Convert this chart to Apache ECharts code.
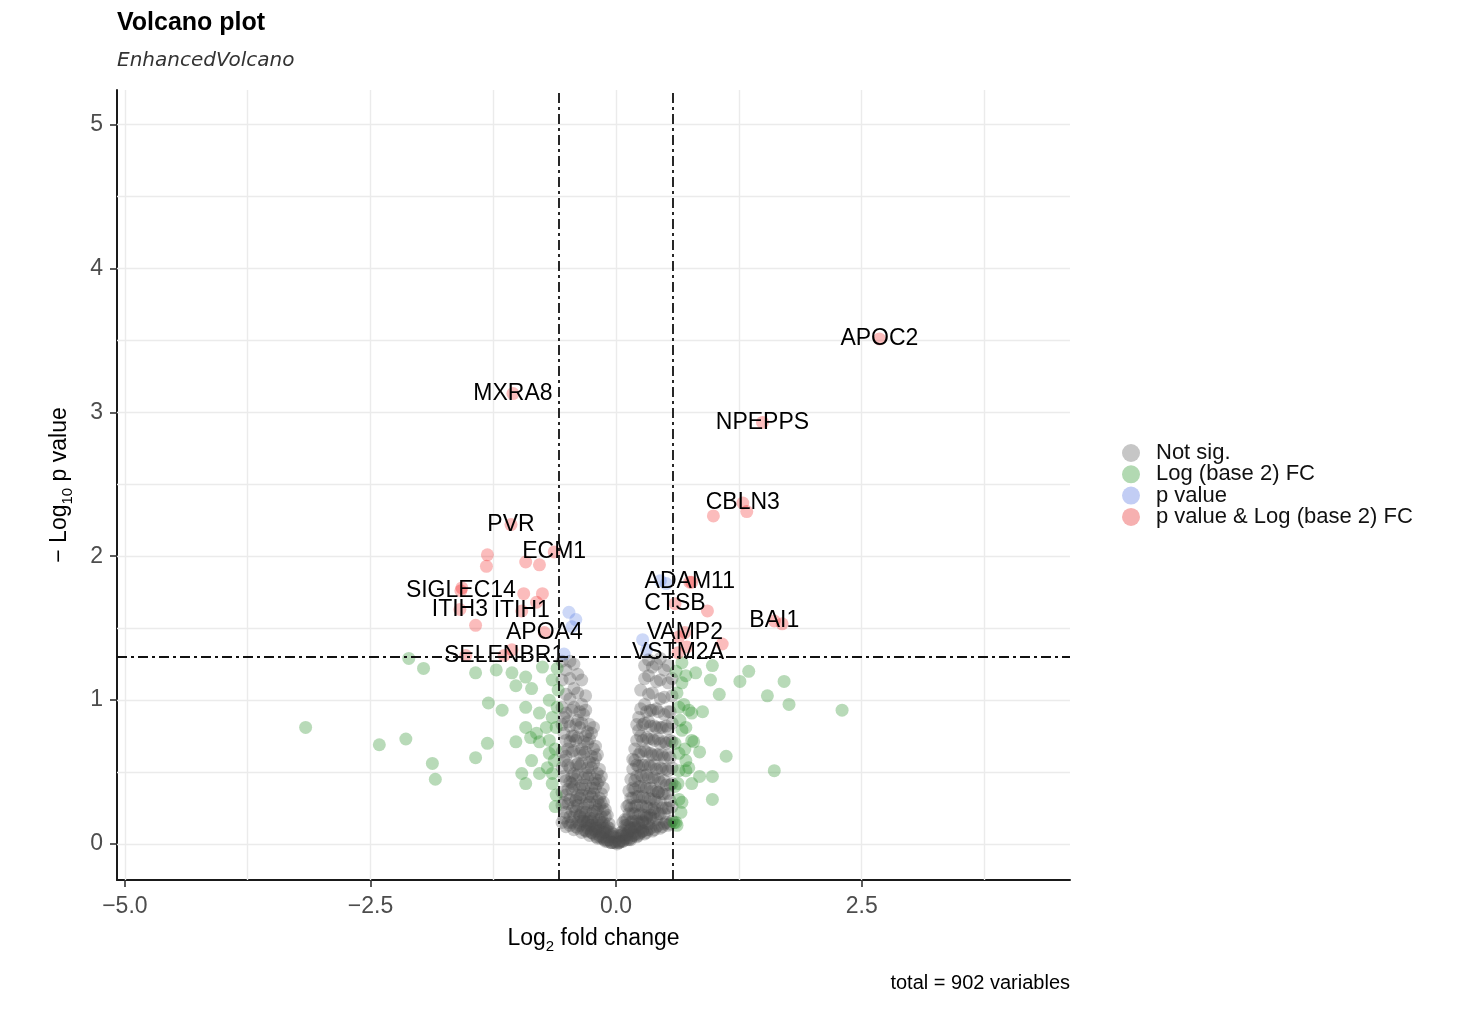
<!DOCTYPE html>
<html>
<head>
<meta charset="utf-8">
<title>Volcano plot</title>
<script src="https://cdn.jsdelivr.net/npm/echarts@6/dist/echarts.min.js"></script>
<style>
  html, body { margin: 0; padding: 0; background: #fff; }
  #main { width: 1470px; height: 1015px; }
</style>
</head>
<body>
<div id="main"></div>
<script>
// axes, grid and cut-offs
var xTicks = [-5, -2.5, 0, 2.5];
var yTicks = [0, 1, 2, 3, 4, 5];
var xGrid = [-5, -3.75, -2.5, -1.25, 0, 1.25, 2.5, 3.75];
var yGrid = [0, 0.5, 1, 1.5, 2, 2.5, 3, 3.5, 4, 4.5, 5];
var fcCutoff = 0.585;
var pCutoff = 1.301; // -log10(0.05)

// not significant: [log2 FC, [-log10 p, ...]]
var notSigColumns = [
    [-0.55, [0.15, 0.27, 0.36, 0.53, 0.64, 0.83, 0.95, 1.14, 1.27]],
    [-0.51, [0.12, 0.22, 0.34, 0.44, 0.61, 0.72, 0.91, 1.04, 1.21]],
    [-0.47, [0.13, 0.19, 0.31, 0.43, 0.53, 0.71, 0.82, 1.01, 1.15, 1.27]],
    [-0.43, [0.10, 0.19, 0.26, 0.40, 0.49, 0.65, 0.75, 0.95, 1.08, 1.25]],
    [-0.39, [0.11, 0.15, 0.27, 0.34, 0.48, 0.56, 0.74, 0.86, 1.05, 1.18]],
    [-0.35, [0.08, 0.16, 0.22, 0.34, 0.41, 0.56, 0.66, 0.84, 0.97, 1.14]],
    [-0.31, [0.09, 0.13, 0.22, 0.28, 0.41, 0.49, 0.64, 0.75, 0.93, 1.03]],
    [-0.27, [0.06, 0.13, 0.18, 0.29, 0.35, 0.48, 0.57, 0.73, 0.83]],
    [-0.23, [0.07, 0.10, 0.18, 0.23, 0.35, 0.42, 0.56, 0.66, 0.81]],
    [-0.19, [0.04, 0.11, 0.15, 0.24, 0.30, 0.42, 0.49, 0.62]],
    [-0.15, [0.05, 0.07, 0.15, 0.19, 0.28, 0.35, 0.47]],
    [-0.11, [0.02, 0.08, 0.11, 0.19, 0.24]],
    [-0.07, [0.03, 0.05, 0.11, 0.14]],
    [-0.03, [0.01, 0.05, 0.07]],
    [0.01, [0.00, 0.04]],
    [0.05, [0.02, 0.06, 0.08]],
    [0.09, [0.04, 0.06, 0.13, 0.17]],
    [0.13, [0.03, 0.09, 0.12, 0.21, 0.27, 0.37]],
    [0.17, [0.06, 0.08, 0.16, 0.21, 0.32, 0.39, 0.52, 0.59]],
    [0.21, [0.05, 0.12, 0.16, 0.27, 0.33, 0.47, 0.55, 0.72, 0.83]],
    [0.25, [0.08, 0.11, 0.21, 0.27, 0.40, 0.48, 0.64, 0.75, 0.94, 1.07]],
    [0.29, [0.07, 0.15, 0.20, 0.32, 0.40, 0.55, 0.65, 0.84, 0.97, 1.15, 1.24]],
    [0.33, [0.10, 0.14, 0.25, 0.32, 0.46, 0.55, 0.73, 0.85, 1.04, 1.17, 1.28]],
    [0.37, [0.09, 0.18, 0.24, 0.37, 0.46, 0.62, 0.73, 0.93, 1.05, 1.23]],
    [0.41, [0.12, 0.17, 0.29, 0.37, 0.52, 0.62, 0.81, 0.94, 1.13, 1.25]],
    [0.45, [0.11, 0.21, 0.29, 0.43, 0.53, 0.70, 0.81, 1.01, 1.14, 1.29]],
    [0.49, [0.14, 0.21, 0.35, 0.44, 0.60, 0.71, 0.90, 1.02, 1.21]],
    [0.53, [0.13, 0.25, 0.35, 0.51, 0.62, 0.80, 0.92, 1.12, 1.24]],
    [0.57, [0.16, 0.26, 0.42, 0.53, 0.71, 0.84, 1.03, 1.15]]
];
// second, offset layer that makes the lower part of the V dark
var notSigColumnsLow = [
    [-0.53, [0.18, 0.29, 0.47, 0.58, 0.77, 0.88]],
    [-0.49, [0.15, 0.28, 0.38, 0.55, 0.66, 0.85]],
    [-0.45, [0.15, 0.23, 0.38, 0.47, 0.64, 0.75, 0.93]],
    [-0.41, [0.12, 0.23, 0.31, 0.45, 0.55, 0.72, 0.83]],
    [-0.37, [0.13, 0.19, 0.32, 0.39, 0.54, 0.63, 0.81, 0.92]],
    [-0.33, [0.10, 0.19, 0.25, 0.38, 0.46, 0.62, 0.71, 0.90]],
    [-0.29, [0.11, 0.16, 0.27, 0.33, 0.46, 0.53, 0.70, 0.78]],
    [-0.25, [0.08, 0.16, 0.21, 0.33, 0.39, 0.53, 0.61, 0.77]],
    [-0.21, [0.09, 0.13, 0.22, 0.27, 0.39, 0.45, 0.60, 0.68]],
    [-0.17, [0.06, 0.13, 0.17, 0.27, 0.32, 0.44, 0.52]],
    [-0.13, [0.04, 0.11, 0.15, 0.23, 0.29, 0.39]],
    [-0.09, [0.03, 0.09, 0.12, 0.20]],
    [-0.05, [0.01, 0.06, 0.08]],
    [-0.01, [0.01, 0.02]],
    [0.03, [0.01, 0.02, 0.06]],
    [0.07, [0.02, 0.07, 0.09, 0.15]],
    [0.11, [0.04, 0.06, 0.13, 0.17, 0.26]],
    [0.15, [0.03, 0.11, 0.15, 0.25, 0.32, 0.45]],
    [0.19, [0.07, 0.11, 0.21, 0.26, 0.38, 0.44, 0.58, 0.66]],
    [0.23, [0.06, 0.15, 0.20, 0.33, 0.40, 0.54, 0.62, 0.79, 0.88]],
    [0.27, [0.09, 0.15, 0.26, 0.33, 0.47, 0.55, 0.72, 0.83]],
    [0.31, [0.08, 0.19, 0.26, 0.39, 0.48, 0.64, 0.74, 0.92]],
    [0.35, [0.11, 0.18, 0.31, 0.39, 0.54, 0.63, 0.82, 0.93]],
    [0.39, [0.10, 0.22, 0.31, 0.46, 0.55, 0.72, 0.82]],
    [0.43, [0.13, 0.21, 0.36, 0.45, 0.62, 0.73, 0.92]],
    [0.47, [0.12, 0.25, 0.35, 0.52, 0.62, 0.81]],
    [0.51, [0.15, 0.25, 0.41, 0.52, 0.70, 0.82]],
    [0.55, [0.14, 0.30, 0.41, 0.60, 0.72, 0.92]]
];
// extra points in the dark bottom of the V
var notSigExtra = [
    [-0.30, 0.09], [-0.25, 0.08], [-0.20, 0.05], [-0.16, 0.04], [-0.12, 0.03], [-0.09, 0.02],
    [-0.05, 0.01], [0.03, 0.01], [0.07, 0.02], [0.11, 0.03], [0.15, 0.04], [0.19, 0.06],
    [0.23, 0.07], [0.27, 0.09], [0.31, 0.10], [-0.33, 0.16], [-0.29, 0.15], [-0.25, 0.13],
    [-0.21, 0.11], [-0.17, 0.09], [-0.13, 0.08], [0.11, 0.07], [0.15, 0.10], [0.19, 0.12],
    [0.23, 0.14], [0.27, 0.16], [0.31, 0.18], [-0.37, 0.20], [-0.41, 0.30], [-0.45, 0.42],
    [0.35, 0.20], [0.39, 0.25], [0.43, 0.36]
];

// |log2 FC| above cut-off only
var fcOnly = [
    [-3.16, 0.81], [-2.41, 0.69], [-2.14, 0.73], [-1.87, 0.56], [-1.84, 0.45], [-2.11, 1.29],
    [-1.96, 1.22], [-1.43, 1.19], [-1.30, 0.98], [-1.16, 0.93], [-1.31, 0.70], [-1.43, 0.60],
    [-1.22, 1.21], [-1.06, 1.19], [-1.02, 1.10], [-0.92, 1.16], [-0.86, 1.08], [-0.92, 0.95],
    [-0.78, 0.91], [-0.68, 1.00], [-0.65, 0.88], [-0.92, 0.81], [-0.81, 0.77], [-0.71, 0.81],
    [-0.87, 0.74], [-1.02, 0.71], [-0.78, 0.71], [-0.68, 0.72], [-0.86, 0.58], [-0.68, 0.63],
    [-0.96, 0.49], [-0.78, 0.49], [-0.65, 0.49], [-0.92, 0.42], [-0.65, 0.42], [-0.75, 1.23],
    [-0.65, 1.14], [-0.61, 0.81], [-0.60, 1.22], [-0.61, 0.34], [-0.63, 0.58], [-0.59, 1.07],
    [-0.70, 0.53], [-0.62, 0.26], [-0.60, 0.95], [-0.62, 0.66],
    [0.98, 1.24], [1.35, 1.20], [0.96, 1.14], [1.26, 1.13], [1.71, 1.13], [1.05, 1.04],
    [1.54, 1.03], [1.76, 0.97], [2.30, 0.93], [1.12, 0.61], [1.61, 0.51], [0.98, 0.47],
    [0.98, 0.31], [0.85, 0.47], [0.79, 0.71], [0.85, 0.64], [0.88, 0.92], [0.77, 0.91],
    [0.69, 0.97], [0.71, 1.17], [0.67, 1.12], [0.67, 0.79], [0.71, 0.58], [0.67, 0.29],
    [0.59, 0.15], [0.64, 0.51], [0.74, 0.53], [0.77, 0.42], [0.62, 0.13], [0.67, 1.26],
    [0.81, 1.19], [0.64, 0.95], [0.74, 0.93], [0.71, 0.81], [0.77, 0.72], [0.64, 0.63],
    [0.71, 0.51], [0.64, 0.31], [0.61, 0.15], [0.62, 1.05], [0.65, 0.86], [0.60, 0.70],
    [0.63, 0.42], [0.66, 0.22], [0.70, 0.66], [0.60, 0.40], [0.61, 1.20]
];

// p value below cut-off only
var pOnly = [
    [-0.48, 1.61], [-0.41, 1.56], [-0.45, 1.51], [-0.53, 1.32],
    [0.31, 1.35], [0.27, 1.42], [0.51, 1.81], [0.45, 1.83]
];

// both, unlabelled
var bothSig = [
    [-1.31, 2.01], [-1.32, 1.93], [-0.92, 1.96], [-0.78, 1.94], [-0.94, 1.74], [-0.75, 1.74],
    [-0.81, 1.68], [-1.43, 1.52], [-1.57, 1.78], [-1.53, 1.31], [-1.06, 1.35], [0.99, 2.28],
    [1.33, 2.31], [0.77, 1.82], [0.93, 1.62], [1.08, 1.39], [0.72, 1.37], [0.64, 1.44],
    [1.69, 1.53]
];

// both, labelled genes
var labelled = [
    ['APOC2', 2.68, 3.51], ['MXRA8', -1.05, 3.13], ['NPEPPS', 1.49, 2.93], ['CBLN3', 1.29, 2.37],
    ['PVR', -1.07, 2.22], ['ECM1', -0.63, 2.03], ['SIGLEC14', -1.58, 1.76], ['ITIH3', -1.59, 1.63],
    ['ITIH1', -0.96, 1.62], ['APOA4', -0.73, 1.47], ['SELENBR1', -1.14, 1.31], ['ADAM11', 0.75, 1.82],
    ['CTSB', 0.60, 1.67], ['VAMP2', 0.70, 1.47], ['VSTM2A', 0.63, 1.33], ['BAI1', 1.61, 1.55]
];

var legendNames = ['Not sig.', 'Log (base 2) FC', 'p value', 'p value & Log (base 2) FC'];
var totalVars = 902;

var font = '"Liberation Sans", Arial, Helvetica, sans-serif';
var myChart = echarts.init(document.getElementById('main'));

var notSig = [];
notSigColumns.concat(notSigColumnsLow).forEach(function (c) {
    c[1].forEach(function (y) { notSig.push([c[0], y]); });
});
notSig = notSig.concat(notSigExtra);

function minusFmt(v) {
    return (v < 0 ? '\u2212' : '') + Math.abs(v).toFixed(1);
}

function pointSeries(name, data, color) {
    return {
        name: name,
        type: 'scatter',
        data: data,
        symbolSize: 13,
        itemStyle: { color: color },
        emphasis: { disabled: true },
        z: 2
    };
}

var subRich = {
    s: { fontSize: 15, lineHeight: 15, verticalAlign: 'bottom', fontFamily: font, color: '#000' }
};

var option = {
    animation: false,
    backgroundColor: '#fff',
    textStyle: { fontFamily: font },
    title: [{
        text: 'Volcano plot',
        subtext: 'EnhancedVolcano',
        left: 112,
        top: 6,
        itemGap: 15,
        textStyle: { fontSize: 25, fontWeight: 'bold', color: '#000', fontFamily: font },
        subtextStyle: { fontSize: 20, fontStyle: 'italic', color: '#333', fontFamily: '"DejaVu Sans", sans-serif' }
    }, {
        text: 'total = ' + totalVars + ' variables',
        right: 395,
        top: 968,
        textStyle: { fontSize: 20, fontWeight: 'normal', color: '#000', fontFamily: font }
    }],
    legend: {
        orient: 'vertical',
        left: 1117,
        top: 437,
        itemWidth: 40,
        itemHeight: 18,
        itemGap: -0.7,
        icon: 'circle',
        selectedMode: false,
        textStyle: { fontSize: 22, lineHeight: 20, color: '#111', fontFamily: font },
        data: [
            { name: legendNames[0], itemStyle: { color: '#c6c6c6', opacity: 1 } },
            { name: legendNames[1], itemStyle: { color: '#b2d9b2', opacity: 1 } },
            { name: legendNames[2], itemStyle: { color: '#c2cdf4', opacity: 1 } },
            { name: legendNames[3], itemStyle: { color: '#f6b0b0', opacity: 1 } }
        ]
    },
    grid: { left: 117, right: 400, top: 90, bottom: 135 },
    xAxis: {
        type: 'value',
        min: -5.08,
        max: 4.62,
        axisLine: { show: true, onZero: false, lineStyle: { color: '#1a1a1a', width: 2 } },
        axisTick: { show: true, customValues: xTicks, length: 7, lineStyle: { color: '#333', width: 1.6 } },
        axisLabel: { customValues: xTicks, formatter: minusFmt, fontSize: 23, color: '#4d4d4d', margin: 15, fontFamily: font },
        splitLine: { show: false },
        name: 'Log{s|2} fold change',
        nameLocation: 'middle',
        nameGap: 44,
        nameTextStyle: { fontSize: 23, lineHeight: 30, color: '#000', fontFamily: font, rich: subRich }
    },
    yAxis: {
        type: 'value',
        min: -0.25,
        max: 5.24,
        axisLine: { show: true, onZero: false, lineStyle: { color: '#1a1a1a', width: 2 } },
        axisTick: { show: true, customValues: yTicks, length: 7, lineStyle: { color: '#333', width: 1.6 } },
        axisLabel: { customValues: yTicks, fontSize: 23, color: '#4d4d4d', margin: 14, fontFamily: font },
        splitLine: { show: false },
        name: '\u2212 Log{s|10} p value',
        nameLocation: 'middle',
        nameGap: 42,
        nameTextStyle: { fontSize: 23, lineHeight: 30, color: '#000', fontFamily: font, rich: subRich }
    },
    series: [
        {
            name: 'grid',
            type: 'scatter',
            data: [],
            silent: true,
            markLine: {
                silent: true,
                symbol: 'none',
                z: 1,
                label: { show: false },
                lineStyle: { color: '#ebebeb', width: 1.4, type: 'solid' },
                data: xGrid.map(function (v) { return { xAxis: v }; })
                    .concat(yGrid.map(function (v) { return { yAxis: v }; }))
            }
        },
        pointSeries(legendNames[0], notSig, 'rgba(77,77,77,0.38)'),
        pointSeries(legendNames[1], fcOnly, 'rgba(34,139,34,0.4)'),
        pointSeries(legendNames[2], pOnly, 'rgba(65,105,225,0.33)'),
        pointSeries(legendNames[3], bothSig, 'rgba(238,0,0,0.33)'),
        {
            name: legendNames[3],
            type: 'scatter',
            data: labelled.map(function (g) { return { name: g[0], value: [g[1], g[2]] }; }),
            symbolSize: 13,
            itemStyle: { color: 'rgba(238,0,0,0.33)' },
            emphasis: { disabled: true },
            label: {
                show: true,
                formatter: '{b}',
                position: 'inside',
                fontSize: 23,
                color: '#000',
                opacity: 1,
                fontFamily: font
            },
            z: 3
        },
        {
            name: 'cutoffs',
            type: 'scatter',
            data: [],
            silent: true,
            markLine: {
                silent: true,
                symbol: 'none',
                z: 4,
                label: { show: false },
                lineStyle: { color: '#111', width: 1.8, type: [10, 4, 3, 4] },
                data: [{ xAxis: -fcCutoff }, { xAxis: fcCutoff }, { yAxis: pCutoff }]
            }
        }
    ]
};

myChart.setOption(option);
</script>
</body>
</html>
